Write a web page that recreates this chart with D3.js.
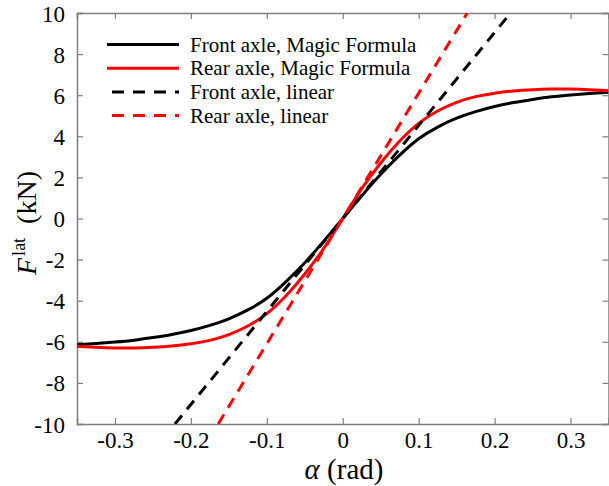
<!DOCTYPE html>
<html>
<head>
<meta charset="utf-8">
<script src="https://cdn.jsdelivr.net/npm/d3@7"></script>
<style>
  html, body { margin: 0; padding: 0; background: #fff; }
  svg text { font-family: "Liberation Serif", "Times New Roman", serif; fill: #000; }
</style>
</head>
<body>
<svg id="chart" width="609" height="486"></svg>
<script>
// Slip angle samples (rad) for the tyre curves
const alphaPos = [0, 0.025, 0.05, 0.075, 0.1, 0.125, 0.15, 0.175, 0.2, 0.225, 0.25, 0.275, 0.3, 0.325, 0.35];
// Lateral force (kN), Magic Formula, front axle
const frontMFPos = [0, 1.1, 2.15, 3.08, 3.88, 4.45, 4.88, 5.2, 5.45, 5.64, 5.79, 5.92, 6.01, 6.08, 6.14];
// Lateral force (kN), Magic Formula, rear axle
const rearMFPos = [0, 1.45, 2.7, 3.77, 4.63, 5.23, 5.65, 5.93, 6.1, 6.21, 6.27, 6.3, 6.3, 6.27, 6.22];
// Linear tyre models: end points (alpha, force)
const frontLinAlpha = [-0.221, 0.221];
const frontLinForce = [-10, 10];
const rearLinAlpha = [-0.164, 0.164];
const rearLinForce = [-10, 10];

const xTicks = [-0.3, -0.2, -0.1, 0, 0.1, 0.2, 0.3];
const yTicks = [-10, -8, -6, -4, -2, 0, 2, 4, 6, 8, 10];

const legendLabels = ["Front axle, Magic Formula", "Rear axle, Magic Formula", "Front axle, linear", "Rear axle, linear"];

const SERIF = "'Liberation Serif', 'Times New Roman', serif";

// Curves are odd functions of the slip angle: mirror the positive half
const mirror = (a, f) => {
  const pts = [];
  for (let i = a.length - 1; i > 0; i--) pts.push([-a[i], -f[i]]);
  for (let i = 0; i < a.length; i++) pts.push([a[i], f[i]]);
  return pts;
};

const series = [
  { pts: mirror(alphaPos, frontMFPos), color: "#000", dash: null },
  { pts: mirror(alphaPos, rearMFPos), color: "#ff0000", dash: null },
  { pts: frontLinAlpha.map((a, i) => [a, frontLinForce[i]]), color: "#000", dash: "11,8" },
  { pts: rearLinAlpha.map((a, i) => [a, rearLinForce[i]]), color: "#ff0000", dash: "11,8" }
];

const L = 77, R = 608.5, T = 13, B = 424;
const svg = d3.select("#chart");
const x = d3.scaleLinear().domain([-0.35, 0.35]).range([L, R]);
const y = d3.scaleLinear().domain([-10, 10]).range([B, T]);

svg.append("defs").append("clipPath").attr("id", "plotclip")
  .append("rect").attr("x", L).attr("y", T).attr("width", R - L).attr("height", B - T);

const fmtX = d => d === 0 ? "0" : d3.format(".1f")(d).replace("\u2212", "-");
const fmtY = d => String(d);

// Axes with inward ticks on all four sides
const frameColor = "#7f7f7f";
const axB = svg.append("g").attr("transform", `translate(0,${B})`)
  .call(d3.axisBottom(x).tickValues(xTicks).tickSize(-6).tickPadding(8).tickFormat(fmtX));
const axT = svg.append("g").attr("transform", `translate(0,${T})`)
  .call(d3.axisTop(x).tickValues(xTicks).tickSize(-6).tickFormat(""));
const axL = svg.append("g").attr("transform", `translate(${L},0)`)
  .call(d3.axisLeft(y).tickValues(yTicks).tickSize(-6).tickPadding(12).tickFormat(fmtY));
const axR = svg.append("g").attr("transform", `translate(${R},0)`)
  .call(d3.axisRight(y).tickValues(yTicks).tickSize(-6).tickFormat(""));

[axB, axT, axL, axR].forEach(g => {
  g.attr("font-family", SERIF);
  g.select(".domain").attr("stroke", frameColor).attr("stroke-width", 1.5);
  g.selectAll(".tick line").attr("stroke", frameColor).attr("stroke-width", 1.2);
  g.selectAll(".tick text")
    .style("font-family", SERIF)
    .style("font-size", "23px")
    .attr("fill", "#000");
});
axB.selectAll(".tick text").attr("dy", "0.71em");
axL.selectAll(".tick text").attr("dy", "0.35em");

// Curves
const line = d3.line().x(d => x(d[0])).y(d => y(d[1])).curve(d3.curveNatural);
const plot = svg.append("g").attr("clip-path", "url(#plotclip)");
series.forEach(s => {
  plot.append("path")
    .attr("d", line(s.pts))
    .attr("fill", "none")
    .attr("stroke", s.color)
    .attr("stroke-width", 3)
    .attr("stroke-dasharray", s.dash);
});

// Legend
const lg = svg.append("g");
legendLabels.forEach((label, i) => {
  const yy = 44.5 + i * 23.7;
  lg.append("line")
    .attr("x1", 107).attr("x2", 179).attr("y1", yy).attr("y2", yy)
    .attr("stroke", series[i].color).attr("stroke-width", 3)
    .attr("stroke-dasharray", series[i].dash ? "12,9" : null)
    .attr("stroke-dashoffset", series[i].dash ? -5 : 0);
  lg.append("text").attr("x", 190).attr("y", yy).attr("dy", "0.34em")
    .style("font-family", SERIF).style("font-size", "21px").text(label);
});

// Axis titles
const xt = svg.append("text").attr("x", 344).attr("y", 479).attr("text-anchor", "middle")
  .style("font-family", SERIF).style("font-size", "29px");
xt.append("tspan").attr("font-style", "italic").text("α");
xt.append("tspan").text(" (rad)");

const yt = svg.append("text").attr("transform", "translate(36,223) rotate(-90)")
  .attr("text-anchor", "middle").style("font-family", SERIF).style("font-size", "28px");
yt.append("tspan").attr("font-style", "italic").text("F");
yt.append("tspan").style("font-size", "18px").attr("dx", 2).attr("dy", -11).text("lat");
yt.append("tspan").attr("dy", 11).attr("xml:space", "preserve").text("  (kN)");
</script>
</body>
</html>
